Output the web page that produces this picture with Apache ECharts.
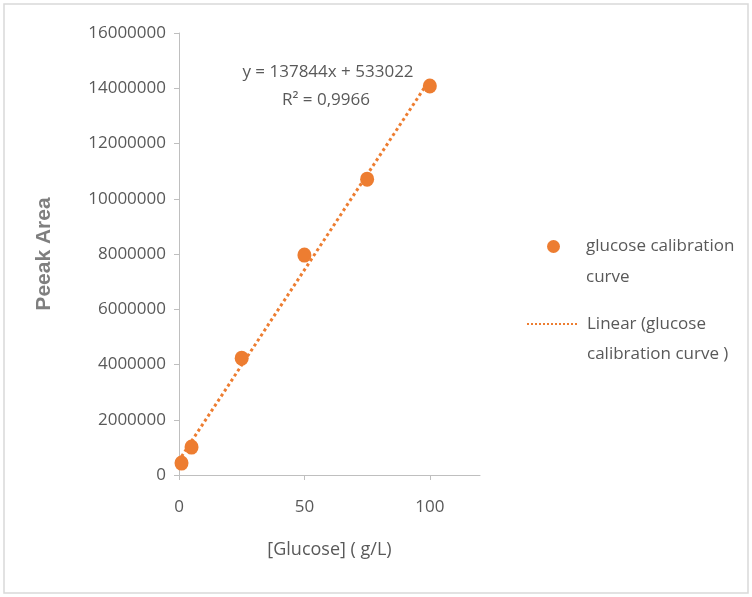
<!DOCTYPE html>
<html>
<head>
<meta charset="utf-8">
<script src="https://cdn.jsdelivr.net/npm/echarts@6/dist/echarts.min.js"></script>
<style>
  html, body { margin: 0; padding: 0; background: #fff; }
  #chart { width: 752px; height: 597px; }
</style>
</head>
<body>
<div id="chart"></div>
<script>
// Glucose standards (g/L) and measured peak areas
const concentrations = [1, 5, 25, 50, 75, 100];
const peakAreas = [430000, 1010000, 4230000, 7960000, 10710000, 14080000];

// Least-squares fit reported for the standards
const fitSlope = 137844;
const fitIntercept = 533022;
const fitR2 = '0,9966';

const yTicks = [0, 2000000, 4000000, 6000000, 8000000, 10000000, 12000000, 14000000, 16000000];
const xTicks = [0, 50, 100];

const seriesName = 'glucose calibration\ncurve';
const trendName = 'Linear (glucose\ncalibration curve )';

const orange = '#ED7D31';
const textGray = '#595959';
const axisGray = '#BFBFBF';
const uiFont = "'Open Sans', 'Liberation Sans', sans-serif";

// Trendline spans the range of the standards
const xMin = Math.min(...concentrations);
const xMax = Math.max(...concentrations);
const trendData = [xMin, xMax].map(x => [x, fitSlope * x + fitIntercept]);

// A blank leading line keeps the legend symbol level with the first text line
const legendLabel = name => ' \n' + name;

const chart = echarts.init(document.getElementById('chart'), null, { renderer: 'canvas' });

chart.setOption({
  animation: false,
  backgroundColor: '#fff',
  grid: { left: 179, right: 272, top: 33, bottom: 122, containLabel: false },
  xAxis: {
    type: 'value',
    min: 0,
    max: 120,
    interval: 50,
    name: '[Glucose] ( g/L)',
    nameLocation: 'middle',
    nameGap: 66,
    nameTextStyle: { color: textGray, fontFamily: uiFont, fontSize: 18 },
    axisLine: { show: true, lineStyle: { color: axisGray, width: 1 } },
    axisTick: { show: true, length: 5, lineStyle: { color: axisGray }, customValues: xTicks },
    axisLabel: { color: textGray, fontFamily: uiFont, fontSize: 17, margin: 24, customValues: xTicks },
    splitLine: { show: false }
  },
  yAxis: {
    type: 'value',
    min: 0,
    max: 16000000,
    interval: 2000000,
    name: 'Peeak Area',
    nameLocation: 'middle',
    nameRotate: 90,
    nameGap: 124,
    nameTextStyle: { color: '#7F7F7F', fontFamily: "'Liberation Sans', Arial, sans-serif", fontSize: 21, fontWeight: 'bold' },
    axisLine: { show: true, lineStyle: { color: axisGray, width: 1 } },
    axisTick: { show: true, length: 5, lineStyle: { color: axisGray }, customValues: yTicks },
    axisLabel: { color: textGray, fontFamily: uiFont, fontSize: 17, margin: 13, customValues: yTicks,
      formatter: v => String(v) },
    splitLine: { show: false }
  },
  legend: [
    {
      data: [{ name: seriesName, icon: 'circle' }],
      formatter: legendLabel,
      left: 547, top: 200,
      padding: 0,
      orient: 'vertical',
      itemWidth: 13, itemHeight: 15,
      selectedMode: false,
      textStyle: { color: textGray, fontFamily: uiFont, fontSize: 17, lineHeight: 31, padding: [0, 0, 0, 21] }
    },
    {
      data: [{ name: trendName }],
      formatter: legendLabel,
      left: 526, top: 279,
      padding: 0,
      orient: 'vertical',
      itemWidth: 51, itemHeight: 14,
      selectedMode: false,
      itemStyle: { color: 'rgba(0,0,0,0)', borderWidth: 0 },
      textStyle: { color: textGray, fontFamily: uiFont, fontSize: 17, lineHeight: 30, padding: [0, 0, 0, 4] }
    }
  ],
  graphic: [
    {
      type: 'rect',
      shape: { x: 4, y: 4, width: 744, height: 589 },
      style: { fill: 'none', stroke: '#D9D9D9', lineWidth: 1.5 },
      silent: true,
      z: -1
    },
    {
      type: 'text',
      x: 328, y: 72,
      style: {
        text: 'y = ' + fitSlope + 'x + ' + fitIntercept,
        fill: textGray, font: '17px ' + uiFont,
        align: 'center', verticalAlign: 'middle'
      }
    },
    {
      type: 'text',
      x: 326, y: 100,
      style: {
        text: 'R² = ' + fitR2,
        fill: textGray, font: '17px ' + uiFont,
        align: 'center', verticalAlign: 'middle'
      }
    }
  ],
  series: [
    {
      name: trendName,
      type: 'line',
      data: trendData,
      symbol: 'none',
      lineStyle: { color: orange, width: 3, type: 'dotted', cap: 'butt' },
      itemStyle: { color: orange },
      z: 1
    },
    {
      name: seriesName,
      type: 'scatter',
      data: concentrations.map((x, i) => [x, peakAreas[i]]),
      symbol: 'circle',
      symbolSize: [14, 15],
      itemStyle: { color: orange, opacity: 1 },
      z: 2
    }
  ]
});
</script>
</body>
</html>
